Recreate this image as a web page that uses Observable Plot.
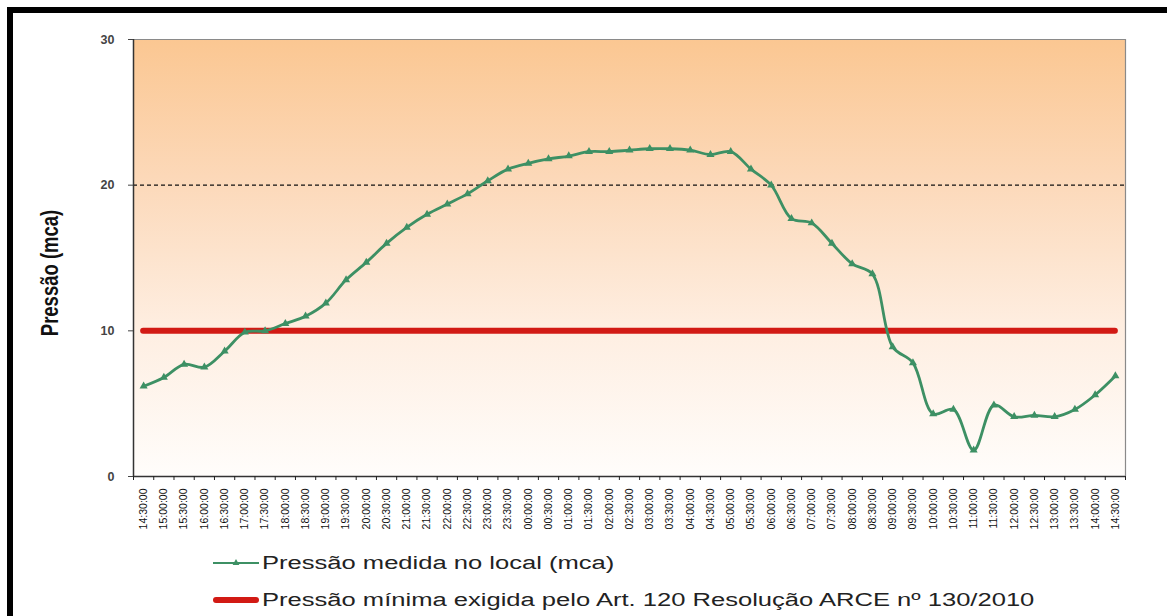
<!DOCTYPE html>
<html>
<head>
<meta charset="utf-8">
<script src="https://cdn.jsdelivr.net/npm/d3@7"></script>
<script src="https://cdn.jsdelivr.net/npm/@observablehq/plot@0.6"></script>
<style>
  html, body { margin: 0; padding: 0; background: #fff; width: 1167px; height: 616px; overflow: hidden; }
  #frame { position: absolute; left: 7px; top: 7px; width: 1300px; height: 800px; border-left: 6px solid #000; border-top: 6px solid #000; box-sizing: border-box; }
  #chart { position: absolute; left: 0; top: 0; }
  .leg { position: absolute; left: 213px; height: 30px; display: flex; align-items: center; font-family: "Liberation Sans", Arial, sans-serif; font-size: 18px; color: #222; white-space: nowrap; }
  .leg span { display: inline-block; transform: scaleX(1.42); transform-origin: left center; margin-left: 3px; }
</style>
</head>
<body>
<div id="frame"></div>
<div id="chart"></div>
<div class="leg" id="leg1" style="top:548px"></div>
<div class="leg" id="leg2" style="top:585px"></div>
<script>
// ---- data ----
const times = [
  "14:30:00","15:00:00","15:30:00","16:00:00","16:30:00","17:00:00","17:30:00","18:00:00",
  "18:30:00","19:00:00","19:30:00","20:00:00","20:30:00","21:00:00","21:30:00","22:00:00",
  "22:30:00","23:00:00","23:30:00","00:00:00","00:30:00","01:00:00","01:30:00","02:00:00",
  "02:30:00","03:00:00","03:30:00","04:00:00","04:30:00","05:00:00","05:30:00","06:00:00",
  "06:30:00","07:00:00","07:30:00","08:00:00","08:30:00","09:00:00","09:30:00","10:00:00",
  "10:30:00","11:00:00","11:30:00","12:00:00","12:30:00","13:00:00","13:30:00","14:00:00",
  "14:30:00"
];
const pressure = [
  6.2, 6.8, 7.7, 7.5, 8.6, 9.9, 10.0, 10.5,
  11.0, 11.9, 13.5, 14.7, 16.0, 17.1, 18.0, 18.7,
  19.4, 20.3, 21.1, 21.5, 21.8, 22.0, 22.3, 22.3,
  22.4, 22.5, 22.5, 22.4, 22.1, 22.3, 21.1, 20.0,
  17.7, 17.4, 16.0, 14.6, 13.9, 8.9, 7.8, 4.3,
  4.6, 1.8, 4.9, 4.1, 4.2, 4.1, 4.6, 5.6,
  6.9
];
const minPressure = 10;
const yTicks = [0, 10, 20, 30];
const seriesNames = [
  "Pressão medida no local (mca)",
  "Pressão mínima exigida pelo Art. 120  Resolução ARCE nº 130/2010"
];
const yLabel = "Pressão (mca)";

// ---- build ----
const rows = times.map((t, i) => ({i, t, p: pressure[i]}));
const n = times.length;
const bounds = d3.range(n + 1).map(k => k - 0.5);
const centers = d3.range(n);
const green = "#3d9064";
const red = "#d21a14";

const defs = () => {
  const d = d3.create("svg:defs");
  const g = d.append("linearGradient").attr("id", "bg").attr("x1", 0).attr("y1", 0).attr("x2", 0).attr("y2", 1);
  [["0%", "#fbc792"], ["33%", "#fcd9ba"], ["66%", "#feeee1"], ["100%", "#fffdfb"]]
    .forEach(([o, c]) => g.append("stop").attr("offset", o).attr("stop-color", c));
  return d.node();
};

const chart = Plot.plot({
  width: 1167,
  height: 546,
  marginLeft: 133,
  marginRight: 42,
  marginTop: 39,
  marginBottom: 70,
  style: {fontFamily: "'Liberation Sans', Arial, sans-serif", background: "transparent", overflow: "visible"},
  x: {domain: [-0.5, n - 0.5], axis: null},
  y: {domain: [0, 30], axis: null},
  marks: [
    defs,
    Plot.frame({fill: "url(#bg)", stroke: null}),
    Plot.ruleY([20], {stroke: "#111", strokeWidth: 1.1, strokeDasharray: "4,3"}),
    Plot.ruleY([30], {stroke: "#8a8a8a", strokeWidth: 1.2}),
    Plot.ruleX([n - 0.5], {stroke: "#8a8a8a", strokeWidth: 1.2}),
    Plot.ruleX([-0.5], {stroke: "#333", strokeWidth: 1.5}),
    Plot.ruleY([0], {stroke: "#333", strokeWidth: 1.5}),
    Plot.axisY({ticks: yTicks, tickSize: 5, tickPadding: 14, fontSize: 12.5, fontWeight: "bold", color: "#444", label: null, anchor: "left"}),
    Plot.axisX({ticks: bounds, tickSize: 4, tickFormat: () => "", label: null, anchor: "bottom", color: "#222"}),
    Plot.axisX({ticks: centers, tickSize: 0, tickPadding: 12, tickRotate: -90, fontSize: 10.5, tickFormat: i => times[i], label: null, anchor: "bottom", color: "#111"}),
    Plot.ruleY([minPressure], {x1: 0, x2: n - 1, stroke: red, strokeWidth: 6, strokeLinecap: "round"}),
    Plot.line(rows, {x: "i", y: "p", curve: "catmull-rom", stroke: green, strokeWidth: 2.8}),
    Plot.dot(rows, {x: "i", y: "p", symbol: "triangle", r: 3, fill: green, stroke: null})
  ]
});
// y-axis title
d3.select(chart).append("text")
  .attr("transform", "translate(50,273) rotate(-90) scale(1,1.3)")
  .attr("text-anchor", "middle")
  .attr("dominant-baseline", "central")
  .attr("font-size", 18.5)
  .attr("font-weight", "bold")
  .attr("fill", "#111")
  .attr("font-family", "'Liberation Sans', Arial, sans-serif")
  .text(yLabel);
document.getElementById("chart").appendChild(chart);

// ---- legend ----
function sample(kind) {
  const s = d3.create("svg").attr("width", 46).attr("height", 12).style("overflow", "visible");
  if (kind === 0) {
    s.append("line").attr("x1", 0).attr("x2", 46).attr("y1", 6).attr("y2", 6).attr("stroke", green).attr("stroke-width", 2);
    s.append("path").attr("d", d3.symbol(d3.symbolTriangle, 20)()).attr("transform", "translate(23,6)").attr("fill", green);
  } else {
    s.append("line").attr("x1", 3).attr("x2", 43).attr("y1", 6).attr("y2", 6).attr("stroke", red).attr("stroke-width", 6).attr("stroke-linecap", "round");
  }
  return s.node();
}
["leg1", "leg2"].forEach((id, k) => {
  const el = document.getElementById(id);
  el.appendChild(sample(k));
  const sp = document.createElement("span");
  sp.textContent = seriesNames[k];
  el.appendChild(sp);
});
</script>
</body>
</html>
